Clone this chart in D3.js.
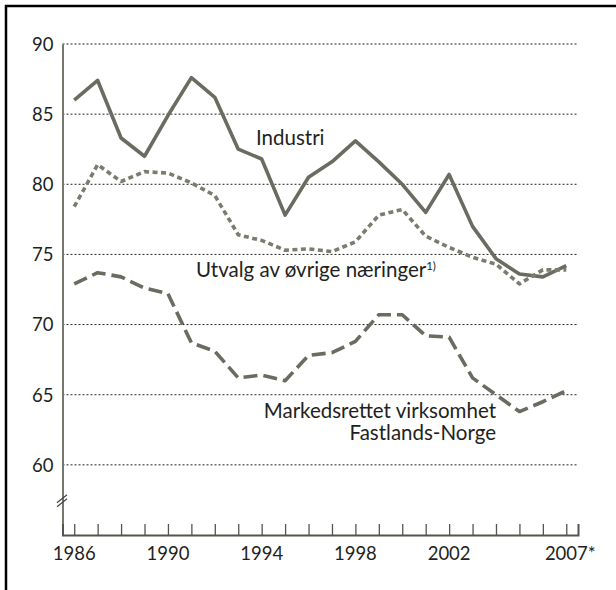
<!DOCTYPE html>
<html>
<head>
<meta charset="utf-8">
<script src="https://cdn.jsdelivr.net/npm/d3@7"></script>
<style>
	body { margin: 0; background: #fff; }
	text { font-family: Lato, 'Open Sans', sans-serif; fill: #231f20; }
</style>
</head>
<body>
<svg id="chart" width="616" height="590"></svg>
<script>
const years = d3.range(1986, 2008)

const industri = [86.0, 87.4, 83.3, 82.0, 84.9, 87.6, 86.2, 82.5, 81.8, 77.8, 80.5,
	81.6, 83.1, 81.6, 80.0, 78.0, 80.7, 77.0, 74.7, 73.6, 73.4, 74.2]

const utvalg = [78.4, 81.4, 80.2, 80.9, 80.8, 80.1, 79.2, 76.4, 76.0, 75.3, 75.4,
	75.2, 75.9, 77.8, 78.2, 76.3, 75.5, 74.8, 74.3, 72.9, 73.9, 73.9]

const markedsrettet = [72.9, 73.7, 73.4, 72.6, 72.2, 68.7, 68.1, 66.2, 66.4, 66.0, 67.8,
	68.0, 68.8, 70.7, 70.7, 69.2, 69.1, 66.2, 65.0, 63.8, 64.5, 65.3]

const yTicks = [60, 65, 70, 75, 80, 85, 90]
const xLabels = [[1986, '1986'], [1990, '1990'], [1994, '1994'], [1998, '1998'], [2002, '2002'], [2007, '2007*']]

const series = [
	{ name: 'industri', values: industri, dash: null },
	{ name: 'utvalg', values: utvalg, dash: '5,3.5' },
	{ name: 'markedsrettet', values: markedsrettet, dash: '14,6' },
]

const svg = d3.select('#chart')
const lineColor = '#6b6b61'

const x = d3.scaleLinear().domain([1985.5, 2007.5]).range([62.5, 578])
const y = d3.scaleLinear().domain([55, 90]).range([535, 44])

// frame (only top and left edges are visible)
svg.append('path')
	.attr('d', 'M6,590V6H616')
	.attr('fill', 'none')
	.attr('stroke', '#000')
	.attr('stroke-width', 2.5)

// gridlines
svg.append('g')
	.selectAll('line')
	.data(yTicks)
	.join('line')
		.attr('x1', x.range()[0])
		.attr('x2', x.range()[1])
		.attr('y1', (d) => y(d))
		.attr('y2', (d) => y(d))
		.attr('stroke', '#222')
		.attr('stroke-width', 1)
		.attr('stroke-dasharray', '2,2')

// y axis
const yAxis = svg.append('g')
	.attr('transform', `translate(${x.range()[0]},0)`)
	.call(d3.axisLeft(y).tickValues(yTicks).tickSize(0).tickPadding(9))
yAxis.select('.domain').attr('stroke', '#77776f').attr('stroke-width', 2)
yAxis.selectAll('text')
	.attr('font-size', 18.5)
	.attr('font-family', 'Lato, sans-serif')
	.attr('fill', '#231f20')
	.attr('dy', '0.34em')

// axis break
const brk = svg.append('g').attr('stroke', '#444').attr('stroke-width', 1.2)
brk.append('line').attr('x1', 57).attr('y1', y(57.3)).attr('x2', 67).attr('y2', y(57.3) - 8)
brk.append('line').attr('x1', 57).attr('y1', y(57.3) + 4).attr('x2', 67).attr('y2', y(57.3) - 4)

// x axis
const xAxis = svg.append('g')
	.attr('transform', `translate(0,${y(55)})`)
	.call(d3.axisTop(x).tickValues(years).tickSize(11).tickFormat(''))
xAxis.select('.domain').attr('stroke', '#55554d').attr('stroke-width', 2)
xAxis.selectAll('.tick line').attr('stroke', '#55554d').attr('stroke-width', 1.3)

svg.append('g')
	.selectAll('text')
	.data(xLabels)
	.join('text')
		.attr('x', (d) => x(d[0]) + (d[1].length > 4 ? 4 : 0))
		.attr('y', 560)
		.attr('text-anchor', 'middle')
		.attr('font-size', 18.5)
		.text((d) => d[1])

// lines
const line = d3.line()
	.x((d, i) => x(years[i]))
	.y((d) => y(d))

svg.append('g')
	.selectAll('path')
	.data(series)
	.join('path')
		.attr('d', (s) => line(s.values))
		.attr('fill', 'none')
		.attr('stroke', (s) => s.name === 'utvalg' ? '#7b7b70' : lineColor)
		.attr('stroke-width', 3.6)
		.attr('stroke-dasharray', (s) => s.dash)
		.attr('stroke-linejoin', 'round')

// labels
svg.append('text')
	.attr('x', 256)
	.attr('y', 145)
	.attr('font-size', 20.5)
	.text('Industri')

const utv = svg.append('text')
	.attr('x', 196)
	.attr('y', 277)
	.attr('font-size', 20.5)
	.text('Utvalg av øvrige næringer')
utv.append('tspan')
	.attr('font-size', 11.5)
	.attr('dy', -7)
	.text('1)')

svg.append('text')
	.attr('text-anchor', 'end')
	.selectAll('tspan')
	.data(['Markedsrettet virksomhet', 'Fastlands-Norge'])
	.join('tspan')
		.attr('x', 496)
		.attr('y', (d, i) => 418 + i * 21.5)
		.attr('font-size', 20.5)
		.text((d) => d)
</script>
</body>
</html>
